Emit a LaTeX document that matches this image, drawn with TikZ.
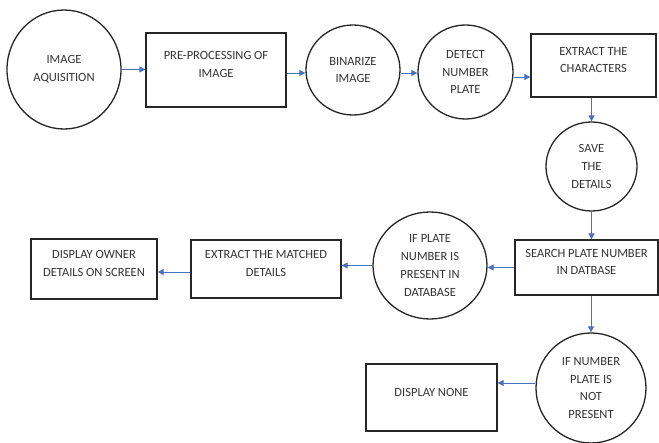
\documentclass[tikz,border=0pt]{standalone}
\usepackage{fontspec}
\setmainfont{Carlito}
\usetikzlibrary{shapes.geometric,arrows.meta}
\definecolor{arrowblue}{HTML}{4472C4}
\definecolor{textgray}{HTML}{333333}
\tikzset{
  lbl/.style={font=\fontsize{12.5}{17.7}\selectfont, text=textgray, align=center, inner sep=0pt},
  circ/.style={lbl, draw=black!85, line width=1.3pt, ellipse},
  boxn/.style={lbl, draw=black!85, line width=1.3pt, rectangle, text depth=11pt},
  arr/.style={draw=arrowblue, line width=0.9pt, -{Triangle[length=6pt,width=6pt]}}
}
\begin{document}
\begin{tikzpicture}[x=1pt,y=-1pt]
\useasboundingbox (0,0) rectangle (659,443);
\node[circ, minimum width=114pt, minimum height=119pt] (acq) at (64,69.5) {IMAGE\\AQUISITION};
\node[boxn, minimum width=140pt, minimum height=74pt] (pre) at (216,70) {PRE-PROCESSING OF\\IMAGE};
\node[circ, minimum width=94pt, minimum height=90pt] (bin) at (353,70) {BINARIZE\\IMAGE};
\node[circ, minimum width=95pt, minimum height=94pt] (det) at (465.5,72) {DETECT\\NUMBER\\PLATE};
\node[boxn, minimum width=125pt, minimum height=63pt] (ext) at (593.5,65.5) {EXTRACT THE\\CHARACTERS};
\node[circ, minimum width=91pt, minimum height=89pt] (save) at (591.5,166.5) {SAVE\\THE\\DETAILS};
\node[boxn, minimum width=143pt, minimum height=55pt] (search) at (586.5,267.5) {SEARCH PLATE NUMBER\\IN DATBASE};
\node[circ, minimum width=114pt, minimum height=107pt] (pres) at (430,265.5) {IF PLATE\\NUMBER IS\\PRESENT IN\\DATABASE};
\node[boxn, minimum width=150pt, minimum height=58pt] (match) at (266,269) {EXTRACT THE MATCHED\\DETAILS};
\node[boxn, minimum width=126pt, minimum height=60pt] (owner) at (94,269) {DISPLAY OWNER\\DETAILS ON SCREEN};
\node[circ, minimum width=110pt, minimum height=110pt] (notp) at (591,388) {IF NUMBER\\PLATE IS\\NOT\\PRESENT};
\node[boxn, minimum width=131pt, minimum height=67pt] (none) at (431.5,397.5) {DISPLAY NONE};

\draw[arr] (acq.east) -- (acq.east -| pre.west);
\draw[arr] ([yshift=-3pt]pre.east) -- ([yshift=-3pt]pre.east -| bin.west);
\draw[arr] ([yshift=-3pt]bin.east) -- ([yshift=-3pt]bin.east -| det.west);
\draw[arr] ([yshift=-5pt]det.east) -- ([yshift=-5pt]det.east -| ext.west);
\draw[arr] (save.north |- ext.south) -- (save.north);
\draw[arr] (save.south) -- (save.south |- search.north);
\draw[arr] (search.west) -- (search.west -| pres.east);
\draw[arr] (pres.west) -- (pres.west -| match.east);
\draw[arr] ([yshift=-3pt]match.west) -- ([yshift=-3pt]match.west -| owner.east);
\draw[arr] (notp.north |- search.south) -- (notp.north);
\draw[arr] ([yshift=5pt]notp.west) -- ([yshift=5pt]notp.west -| none.east);
\end{tikzpicture}
\end{document}
